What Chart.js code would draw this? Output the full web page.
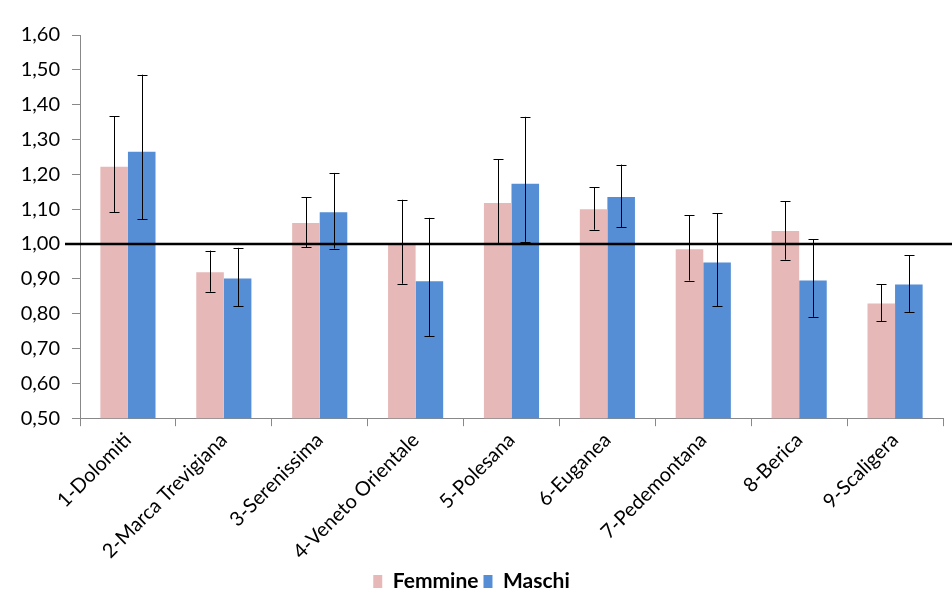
<!DOCTYPE html>
<html lang="it">
<head>
    <meta charset="UTF-8">
    <title>Femmine / Maschi per ULSS</title>
    <script src="https://cdn.jsdelivr.net/npm/chart.js"></script>
    <style>
        body { margin: 0; background: #fff; }
        #wrap { width: 952px; height: 609px; }
    </style>
</head>
<body>
    <div id="wrap"><canvas id="chart"></canvas></div>

    <script>
        // values
        const categories = ['1-Dolomiti', '2-Marca Trevigiana', '3-Serenissima', '4-Veneto Orientale',
            '5-Polesana', '6-Euganea', '7-Pedemontana', '8-Berica', '9-Scaligera'];
        const femmine   = [1.222, 0.919, 1.060, 1.000, 1.118, 1.100, 0.985, 1.037, 0.829];
        const femmineLo = [1.091, 0.863, 0.990, 0.886, 1.003, 1.041, 0.895, 0.955, 0.779];
        const femmineHi = [1.367, 0.981, 1.134, 1.127, 1.244, 1.163, 1.082, 1.123, 0.885];
        const maschi    = [1.265, 0.901, 1.091, 0.893, 1.173, 1.135, 0.947, 0.895, 0.884];
        const maschiLo  = [1.071, 0.822, 0.987, 0.736, 1.006, 1.048, 0.822, 0.791, 0.805];
        const maschiHi  = [1.486, 0.989, 1.204, 1.075, 1.365, 1.228, 1.088, 1.013, 0.967];
        const refValue = 1.0;
        const yTicks = [0.5, 0.6, 0.7, 0.8, 0.9, 1.0, 1.1, 1.2, 1.3, 1.4, 1.5, 1.6];

        const FONT = 'Lato, "Open Sans", sans-serif';

        // error bars + reference line, drawn from the scales
        const extras = {
            id: 'extras',
            afterDatasetsDraw(chart) {
                const ctx = chart.ctx;
                const y = chart.scales.y;
                const area = chart.chartArea;
                const ranges = [[femmineLo, femmineHi], [maschiLo, maschiHi]];
                ctx.save();
                ctx.strokeStyle = '#000';
                ctx.lineWidth = 1;
                ranges.forEach((r, di) => {
                    chart.getDatasetMeta(di).data.forEach((bar, i) => {
                        const x = Math.round(bar.x) + 0.5;
                        const lo = y.getPixelForValue(r[0][i]);
                        const hi = y.getPixelForValue(r[1][i]);
                        ctx.beginPath();
                        ctx.moveTo(x, lo); ctx.lineTo(x, hi);
                        ctx.moveTo(x - 5, Math.round(lo) + 0.5); ctx.lineTo(x + 5, Math.round(lo) + 0.5);
                        ctx.moveTo(x - 5, Math.round(hi) + 0.5); ctx.lineTo(x + 5, Math.round(hi) + 0.5);
                        ctx.stroke();
                    });
                });
                const ry = y.getPixelForValue(refValue);
                ctx.lineWidth = 2.5;
                ctx.beginPath();
                ctx.moveTo(area.left - 15, ry);
                ctx.lineTo(chart.width, ry);
                ctx.stroke();
                ctx.restore();
            }
        };

        new Chart(document.getElementById('chart'), {
            type: 'bar',
            data: {
                labels: categories,
                datasets: [
                    { label: 'Femmine', data: femmine, backgroundColor: '#E6B9B8' },
                    { label: 'Maschi', data: maschi, backgroundColor: '#558ED5' }
                ]
            },
            options: {
                responsive: true,
                maintainAspectRatio: false,
                animation: false,
                datasets: { bar: { barPercentage: 1, categoryPercentage: 0.575 } },
                layout: { padding: { top: 35, right: 9, left: 0, bottom: 7 } },
                plugins: {
                    tooltip: { enabled: false },
                    legend: {
                        position: 'bottom',
                        labels: {
                            color: '#000',
                            font: { family: FONT, size: 21, weight: 'bold' },
                            boxWidth: 9, boxHeight: 13, padding: 5
                        }
                    }
                },
                scales: {
                    x: {
                        grid: { offset: true, drawOnChartArea: false, color: '#888', tickLength: 8 },
                        border: { color: '#888' },
                        ticks: {
                            color: '#000', minRotation: 45, maxRotation: 45, padding: 2,
                            font: { family: FONT, size: 20 }
                        }
                    },
                    y: {
                        min: 0.5, max: 1.6,
                        afterFit(s) { s.width = 80; },
                        afterBuildTicks(s) { s.ticks = yTicks.map(v => ({ value: v })); },
                        grid: { drawOnChartArea: false, color: '#888', tickLength: 8 },
                        border: { color: '#888' },
                        ticks: {
                            color: '#000', padding: 12,
                            font: { family: FONT, size: 20 },
                            callback: v => v.toFixed(2).replace('.', ',')
                        }
                    }
                }
            },
            plugins: [extras]
        });
    </script>
</body>
</html>
